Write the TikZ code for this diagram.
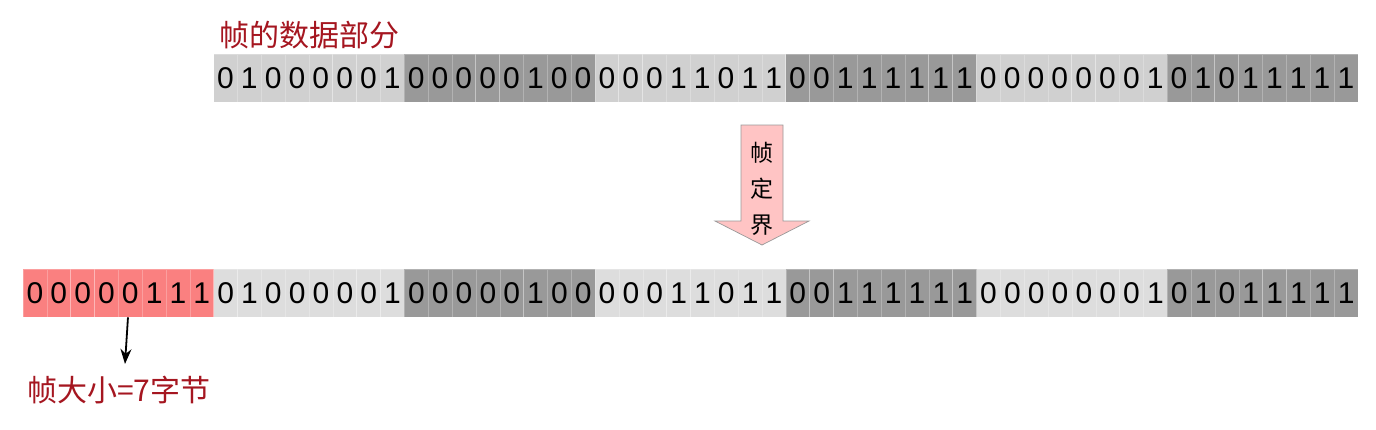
\documentclass[tikz,border=0pt]{standalone}
\usepackage{fontspec}
\setmainfont{Liberation Sans}
\newfontfamily\cjk{Noto Sans CJK SC}
\usetikzlibrary{arrows.meta}
\definecolor{lightg}{RGB}{208,208,208}
\definecolor{lightb}{RGB}{221,221,221}
\definecolor{darkg}{RGB}{153,153,153}
\definecolor{redc}{RGB}{250,128,128}
\definecolor{pinkc}{RGB}{255,196,196}
\definecolor{labelred}{RGB}{165,22,32}
\begin{document}
\begin{tikzpicture}[x=1pt,y=-1pt,
  bit/.style={fill=#1, draw=white, draw opacity=0.25, line width=0.6pt,
    minimum width=23.84pt, minimum height=48pt, inner sep=0pt, outer sep=0pt,
    font=\fontsize{30}{30}\selectfont, text=black},
  lbl/.style={font=\cjk\fontsize{30}{30}\selectfont, text=labelred, inner sep=0pt, anchor=west},
  arrtxt/.style={font=\cjk\fontsize{23}{23}\selectfont, text=black, inner sep=0pt}]
\path[use as bounding box, fill=white] (0,0) rectangle (1376,429);
% top row
\foreach \v [count=\k from 0] in {0,1,0,0,0,0,0,1, 0,0,0,0,0,1,0,0, 0,0,0,1,1,0,1,1, 0,0,1,1,1,1,1,1, 0,0,0,0,0,0,0,1, 0,1,0,1,1,1,1,1} {
  \pgfmathtruncatemacro\byt{\k/8}
  \ifodd\byt \def\cc{darkg}\else\def\cc{lightg}\fi
  \node[bit=\cc] (t\k) at (213.5+23.84*\k+11.92, 78.3) {\v};
}
% bottom row
\foreach \v [count=\k from 0] in {0,0,0,0,0,1,1,1, 0,1,0,0,0,0,0,1, 0,0,0,0,0,1,0,0, 0,0,0,1,1,0,1,1, 0,0,1,1,1,1,1,1, 0,0,0,0,0,0,0,1, 0,1,0,1,1,1,1,1} {
  \pgfmathtruncatemacro\byt{\k/8}
  \ifnum\byt=0 \def\cc{redc}\else\ifodd\byt \def\cc{lightb}\else\def\cc{darkg}\fi\fi
  \node[bit=\cc] (b\k) at (23+23.84*\k+11.92, 293.3) {\v};
}
% labels
\node[lbl] (dataLbl) at (219,35) {帧的数据部分};
\node[lbl] (sizeLbl) at (27,390) {帧大小=7字节};
% big arrow
\draw[fill=pinkc, draw=gray!80, line width=0.7pt]
  (741,125) -- (783,125) -- (783,221) -- (809,221) -- (762,245) -- (715,221) -- (741,221) -- cycle;
\node[arrtxt] (a1) at (762,153) {帧};
\node[arrtxt] (a2) at (762,189) {定};
\node[arrtxt] (a3) at (762,225) {界};
% small arrow
\coordinate (szEnd) at (125,364);
\draw[-{Stealth[length=15pt,width=11pt]}, line width=1.8pt] ([xshift=-2.3pt]b4.south) -- (szEnd);
\end{tikzpicture}
\end{document}
